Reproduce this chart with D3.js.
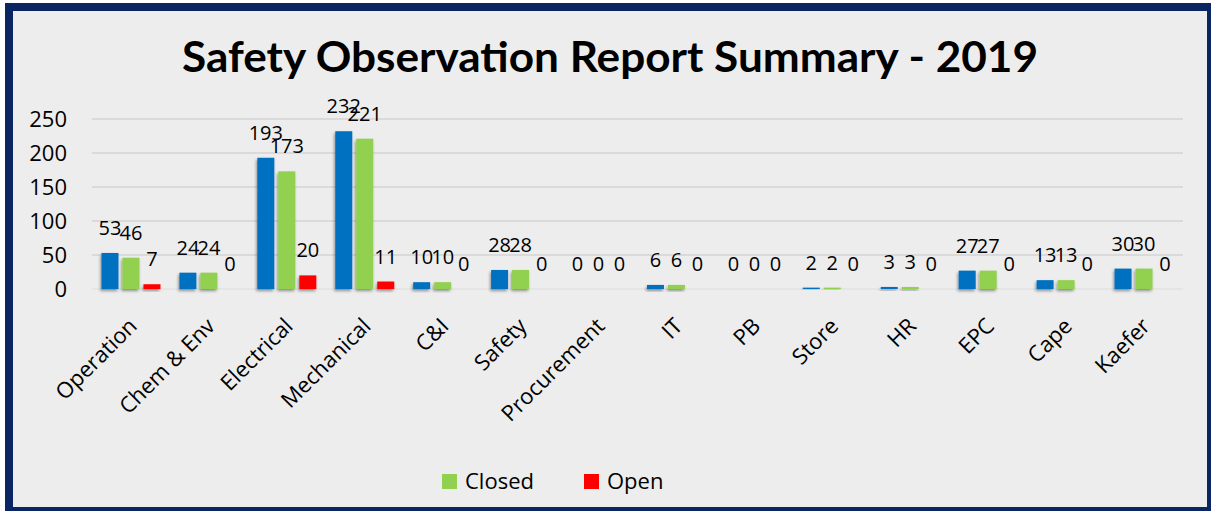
<!DOCTYPE html>
<html>
<head>
<meta charset="utf-8">
<script src="https://cdn.jsdelivr.net/npm/d3@7"></script>
<style>
  html, body { margin: 0; padding: 0; background: #fff; }
  svg { display: block; }
</style>
</head>
<body>
<svg id="chart" width="1211" height="511"></svg>
<script>
// Chart values
const categories = ['Operation', 'Chem & Env', 'Electrical', 'Mechanical', 'C&I', 'Safety',
  'Procurement', 'IT', 'PB', 'Store', 'HR', 'EPC', 'Cape', 'Kaefer'];
const totalValues = [53, 24, 193, 232, 10, 28, 0, 6, 0, 2, 3, 27, 13, 30];
const closedValues = [46, 24, 173, 221, 10, 28, 0, 6, 0, 2, 3, 27, 13, 30];
const openValues = [7, 0, 20, 11, 0, 0, 0, 0, 0, 0, 0, 0, 0, 0];
const yTicks = [0, 50, 100, 150, 200, 250];
const seriesNames = ['Total', 'Closed', 'Open'];
const legendNames = ['Closed', 'Open'];

const colors = { Total: '#0070C0', Closed: '#92D050', Open: '#FF0000' };
const font = '"Open Sans", "Noto Sans", sans-serif';

const svg = d3.select('#chart');
const W = 1211, H = 511;
const plot = { left: 92, right: 1183, top: 119, bottom: 289 };

// Frame: navy border with a light grey chart area
svg.append('rect').attr('x', 5).attr('y', 3).attr('width', W - 5).attr('height', H - 3)
  .attr('fill', '#0b2562');
svg.append('rect').attr('x', 13).attr('y', 11).attr('width', W - 17).attr('height', H - 15)
  .attr('fill', '#ededed');

// Soft shadow under the bars
const defs = svg.append('defs');
defs.append('filter').attr('id', 'barShadow')
  .attr('x', '-50%').attr('y', '-50%').attr('width', '200%').attr('height', '200%')
  .append('feDropShadow')
  .attr('dx', -1).attr('dy', 2).attr('stdDeviation', 1.6)
  .attr('flood-color', '#000').attr('flood-opacity', 0.4);

// Title
svg.append('text')
  .attr('x', 182).attr('y', 72)
  .attr('textLength', 856).attr('lengthAdjust', 'spacingAndGlyphs')
  .style('font-family', 'Lato, "Open Sans", sans-serif')
  .style('font-weight', '700')
  .style('font-size', '42px')
  .style('fill', '#000')
  .text('Safety Observation Report Summary - 2019');

// Scales
const x0 = d3.scaleBand().domain(categories).range([plot.left, plot.right]).padding(0);
const x1 = d3.scaleBand().domain(seriesNames).range([-29.5, 29.5]).paddingInner(4 / 21);
const y = d3.scaleLinear().domain([0, 250]).range([plot.bottom, plot.top]);

// Gridlines
svg.append('g').selectAll('line')
  .data(yTicks)
  .join('line')
  .attr('x1', plot.left).attr('x2', plot.right)
  .attr('y1', d => y(d)).attr('y2', d => y(d))
  .attr('stroke', d => d === 0 ? '#e2e2e2' : '#d3d3d3')
  .attr('stroke-width', 1.5);

// Y axis labels
const yAxis = svg.append('g')
  .attr('transform', `translate(67,0)`)
  .call(d3.axisLeft(y).tickValues(yTicks).tickSize(0).tickPadding(0));
yAxis.select('.domain').remove();
yAxis.selectAll('text')
  .style('font-family', font)
  .style('font-size', '22px')
  .style('fill', '#000');

// Rows: one entry per bar
const rows = [];
categories.forEach((c, i) => {
  rows.push({ cat: c, series: 'Total', value: totalValues[i] });
  rows.push({ cat: c, series: 'Closed', value: closedValues[i] });
  rows.push({ cat: c, series: 'Open', value: openValues[i] });
});
const barX = d => x0(d.cat) + x0.bandwidth() / 2 + x1(d.series);

// Bars
svg.append('g').attr('class', 'bars')
  .selectAll('rect')
  .data(rows.filter(d => d.value > 0))
  .join('rect')
  .attr('x', barX)
  .attr('y', d => y(d.value))
  .attr('width', x1.bandwidth())
  .attr('height', d => y(0) - y(d.value))
  .attr('fill', d => colors[d.series])
  .attr('filter', 'url(#barShadow)');

// Data labels above each bar
svg.append('g').attr('class', 'labels')
  .selectAll('text')
  .data(rows)
  .join('text')
  .attr('x', d => barX(d) + x1.bandwidth() / 2)
  .attr('y', d => y(d.value) - 18)
  .attr('text-anchor', 'middle')
  .style('font-family', font)
  .style('font-size', '20px')
  .style('fill', '#000')
  .text(d => d.value);

// Category labels, rotated
svg.append('g').attr('class', 'xlabels')
  .selectAll('text')
  .data(categories)
  .join('text')
  .attr('transform', d => `translate(${x0(d) + x0.bandwidth() / 2 + 2},322) rotate(-45)`)
  .attr('text-anchor', 'end')
  .attr('dy', '0.35em')
  .style('font-family', font)
  .style('font-size', '22px')
  .style('fill', '#000')
  .text(d => d);

// Legend
const legendX = [442, 584];
const legend = svg.append('g').selectAll('g')
  .data(legendNames)
  .join('g')
  .attr('transform', (d, i) => `translate(${legendX[i]},474)`);
legend.append('rect')
  .attr('width', 15).attr('height', 15)
  .attr('fill', d => colors[d]);
legend.append('text')
  .attr('x', 23).attr('y', 15)
  .style('font-family', font)
  .style('font-size', '22px')
  .style('fill', '#000')
  .text(d => d);
</script>
</body>
</html>
